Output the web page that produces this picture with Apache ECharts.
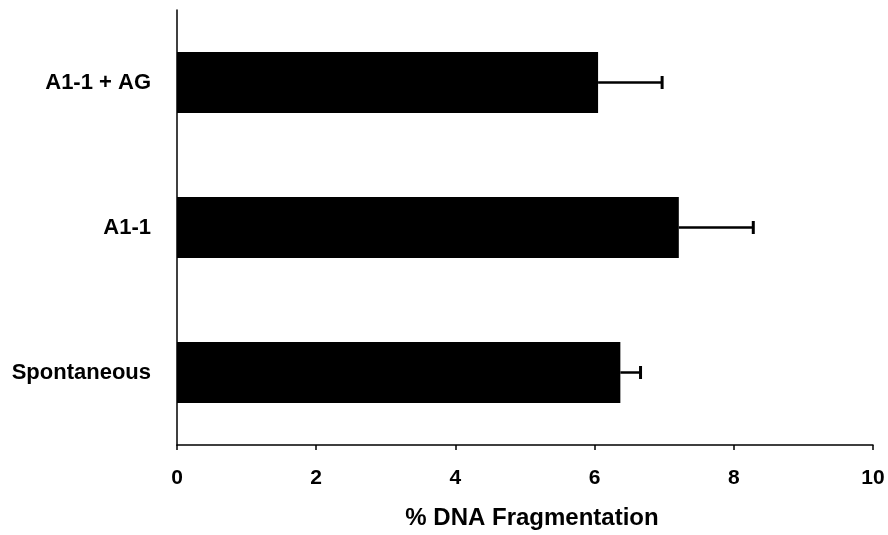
<!DOCTYPE html>
<html>
<head>
<meta charset="utf-8">
<script src="https://cdn.jsdelivr.net/npm/echarts@6/dist/echarts.min.js"></script>
<style>
  html, body { margin: 0; padding: 0; background: #fff; }
  #chart { width: 888px; height: 535px; }
</style>
</head>
<body>
<div id="chart"></div>
<script>
// Treatment groups, listed bottom to top
const categories = ['Spontaneous', 'A1-1', 'A1-1 + AG'];
// Mean % DNA fragmentation per group
const meanValues = [6.37, 7.21, 6.05];
// Upper error (SEM) per group
const errorValues = [0.29, 1.07, 0.92];
// X axis range and step
const xMin = 0, xMax = 10, xStep = 2;

const FONT = '"Liberation Sans", Arial, sans-serif';

const errorData = categories.map((c, i) => [i, meanValues[i], meanValues[i] + errorValues[i]]);

const chart = echarts.init(document.getElementById('chart'), null, { renderer: 'canvas' });
chart.setOption({
  animation: false,
  backgroundColor: '#ffffff',
  grid: { left: 177, right: 15, top: 10, bottom: 89, containLabel: false },
  xAxis: {
    type: 'value',
    min: xMin, max: xMax, interval: xStep,
    name: '% DNA Fragmentation',
    nameLocation: 'middle',
    nameGap: 61,
    nameTextStyle: { fontFamily: FONT, fontSize: 24, fontWeight: 'bold', color: '#000', padding: [0, 0, 0, 14] },
    axisLine: { show: true, lineStyle: { color: '#000', width: 1.5 } },
    axisTick: { show: true, inside: false, length: 5, lineStyle: { color: '#000', width: 1.5 } },
    axisLabel: { fontFamily: FONT, fontSize: 21, fontWeight: 'bold', color: '#000', margin: 23 },
    splitLine: { show: false }
  },
  yAxis: {
    type: 'category',
    data: categories,
    axisLine: { show: true, lineStyle: { color: '#000', width: 1.5 } },
    axisTick: { show: false },
    axisLabel: { fontFamily: FONT, fontSize: 22, fontWeight: 'bold', color: '#000', margin: 26 },
    splitLine: { show: false }
  },
  series: [
    {
      type: 'bar',
      data: meanValues,
      barWidth: '42%',
      itemStyle: { color: '#000' },
      z: 2
    },
    {
      type: 'custom',
      data: errorData,
      z: 3,
      renderItem: function (params, api) {
        const yi = api.value(0);
        const start = api.coord([api.value(1), yi]);
        const end = api.coord([api.value(2), yi]);
        const capHalf = 6.5;
        const style = { stroke: '#000', lineWidth: 2.5 };
        return {
          type: 'group',
          children: [
            { type: 'line', shape: { x1: start[0], y1: start[1], x2: end[0], y2: end[1] }, style: style },
            { type: 'line', shape: { x1: end[0], y1: end[1] - capHalf, x2: end[0], y2: end[1] + capHalf }, style: { stroke: '#000', lineWidth: 3 } }
          ]
        };
      }
    }
  ]
});
</script>
</body>
</html>
